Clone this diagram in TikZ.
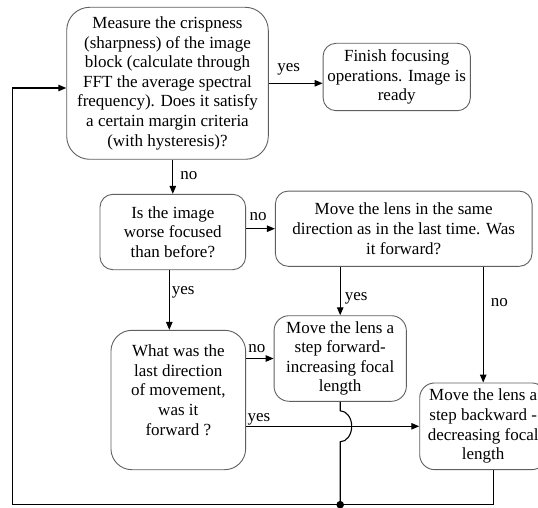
\documentclass[tikz,border=0pt]{standalone}
\usepackage{fontspec}
\setmainfont{Liberation Serif}
\usetikzlibrary{positioning,calc,arrows.meta}
\definecolor{edge}{RGB}{95, 95, 95}

\tikzset{
  box/.style={draw=edge, line width=0.9pt, rounded corners=13pt, align=center, inner sep=2pt},
  flow/.style={-{Triangle[length=8pt,width=6.5pt]}, line width=1.1pt},
  lab/.style={inner sep=1pt, text height=8pt, text depth=3.5pt}
}

\begin{document}
\begin{tikzpicture}[x=1pt, y=1pt, font=\fontsize{17}{19.6}\selectfont]
  \useasboundingbox (0,0) rectangle (538,507);

  \node[box, rounded corners=23pt, minimum width=201.6pt, minimum height=152pt] (measure) at (167.5,423.7)
    {Measure the crispness\\(sharpness) of the image\\block (calculate through\\FFT the average spectral\\frequency). Does it satisfy\\a certain margin criteria\\(with hysteresis)?};
  \node[box, minimum width=147.3pt, minimum height=67.4pt] (finish) at (396.7,430)
    {Finish focusing\\operations. Image is\\ready};
  \node[box, minimum width=145.7pt, minimum height=75.4pt] (isworse) at (172.8,275)
    {Is the image\\worse focused\\than before?};
  \node[box, minimum width=256.7pt, minimum height=75.3pt] (same) at (403.7,278.3)
    {Move the lens in the same\\direction as in the last time. Was\\it forward?};
  \node[box, rounded corners=21pt, minimum width=134.7pt, minimum height=139.4pt] (lastdir) at (178.3,107)
    {What was the\\last direction\\of movement,\\was it\\forward ?\\[-5.6pt]\strut};
  \node[box, rounded corners=15pt, minimum width=132.3pt, minimum height=85.6pt] (fwd) at (340.2,148.5)
    {Move the lens a\\step forward-\\increasing focal\\length};
  \node[box, rounded corners=15pt, minimum width=127pt, minimum height=86.7pt] (back) at (483.2,80.7)
    {Move the lens a\\step backward -\\decreasing focal\\length};

  \coordinate (loop) at (12.7,2.3);
  \coordinate (looptop) at (12.7,419);
  \coordinate (yesdown) at ($(isworse.south)+(-3.5,0)$);
  \coordinate (backout) at ($(back.south)+(10,0)$);

  % decisions
  \draw[flow] (measure.east) -- node[lab, above=7pt, pos=0.37] {yes} (measure.east -| finish.west);
  \draw[flow] (isworse.north |- measure.south) -- node[lab, right=6pt] {no} (isworse.north);
  \draw[flow] (same.west -| isworse.east) -- node[lab, above=2.8pt, pos=0.42] {no} (same.west);
  \draw[flow] (yesdown) -- node[lab, right=1pt, pos=0.37] {yes} (yesdown |- lastdir.north);
  \draw[flow] (fwd.north |- same.south) -- node[lab, right=3pt, pos=0.64] {yes} (fwd.north);
  \draw[flow] (back.north |- same.south) -- node[lab, right=6pt, pos=0.32] {no} (back.north);
  \draw[flow] (fwd.west -| lastdir.east) -- node[lab, above=1pt, pos=0.39] {no} (fwd.west);
  \draw[flow] (back.west -| lastdir.east) -- node[lab, above right, pos=0] {yes} (back.west);

  % back to the start
  \draw[line width=1.1pt] (fwd.south) -- ($(fwd.south |- back.west)+(0,15.5)$)
    arc[start angle=90, end angle=-90, x radius=11.5pt, y radius=15.5pt] -- (fwd.south |- loop);
  \fill (fwd.south |- loop) circle (3.8pt);
  \draw[flow] (backout) |- (loop) -- (looptop) -- (looptop -| measure.west);
\end{tikzpicture}
\end{document}
